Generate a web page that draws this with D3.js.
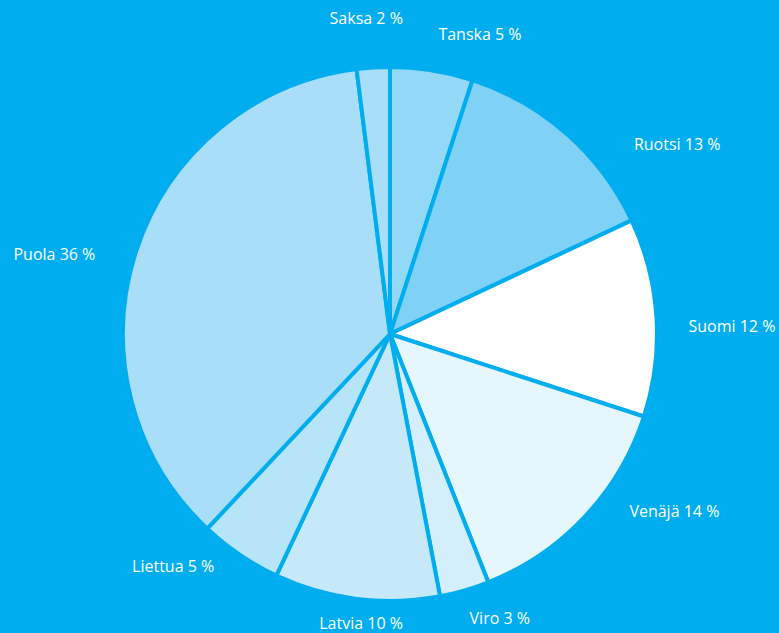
<!DOCTYPE html>
<html>
<head>
<meta charset="utf-8">
<script src="https://cdn.jsdelivr.net/npm/d3@7"></script>
<style>
	html, body { margin: 0; padding: 0; background: #00adef; }
	svg { display: block; }
	.label { font-family: "Open Sans", sans-serif; font-size: 16px; fill: #ffffff; }
</style>
</head>
<body>
<div id="chart"></div>
<script>
// shares, clockwise from 12 o'clock
var countries = ["Tanska", "Ruotsi", "Suomi", "Venäjä", "Viro", "Latvia", "Liettua", "Puola", "Saksa"];
var shares = [5, 13, 12, 14, 3, 10, 5, 36, 2];
var fills = ["#92d8f7", "#7fd2f6", "#ffffff", "#e6f6fd", "#d5eefb", "#c5e9f9", "#b6e4f9", "#a9def9", "#a9def9"];

var W = 779, H = 633;
var cx = 390, cy = 334, R = 267;

// label placement (angle in degrees from 12 o'clock, distance from centre)
var labelPolar = {
	"Tanska": [16.7, 313],
	"Ruotsi": [56.6, 344],
	"Suomi": [88.8, 342],
	"Venäjä": [121.9, 335],
	"Viro": [158.9, 305],
	"Latvia": [185.7, 291],
	"Liettua": [223, 318],
	"Puola": [283.4, 345],
	"Saksa": [355.7, 317]
};

var svg = d3.select("#chart").append("svg")
	.attr("width", W)
	.attr("height", H);

svg.append("rect")
	.attr("width", W)
	.attr("height", H)
	.attr("fill", "#00adef");

var data = countries.map(function(c, i) {
	return { name: c, value: shares[i], fill: fills[i] };
});

var pie = d3.pie()
	.sort(null)
	.value(function(d) { return d.value; });

var arc = d3.arc()
	.innerRadius(0)
	.outerRadius(R);

var g = svg.append("g")
	.attr("transform", "translate(" + cx + "," + cy + ")");

g.selectAll("path.slice")
	.data(pie(data))
	.enter().append("path")
	.attr("class", "slice")
	.attr("d", arc)
	.attr("fill", function(d) { return d.data.fill; })
	.attr("stroke", "#00adef")
	.attr("stroke-width", 4)
	.attr("stroke-linejoin", "miter");

g.selectAll("text.label")
	.data(pie(data))
	.enter().append("text")
	.attr("class", "label")
	.attr("text-anchor", "middle")
	.attr("dy", "0.35em")
	.attr("x", function(d) {
		var p = labelPolar[d.data.name];
		return Math.sin(p[0] * Math.PI / 180) * p[1];
	})
	.attr("y", function(d) {
		var p = labelPolar[d.data.name];
		return -Math.cos(p[0] * Math.PI / 180) * p[1];
	})
	.text(function(d) { return d.data.name + " " + d.data.value + " %"; });
</script>
</body>
</html>
